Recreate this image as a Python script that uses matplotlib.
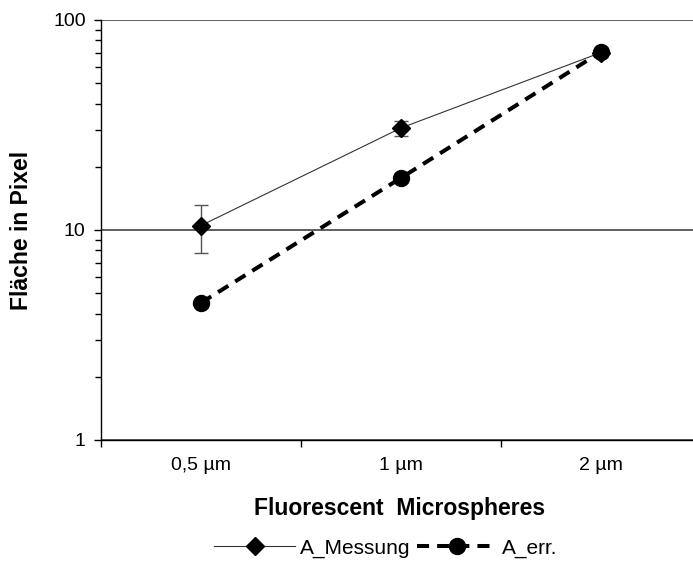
import matplotlib.pyplot as plt
import numpy as np

plt.rcParams['font.family'] = ['Liberation Sans', 'DejaVu Sans']

# data
categories = ['0,5 µm', '1 µm', '2 µm']
a_messung = [10.5, 30.6, 70.0]
a_messung_err = [2.7, 2.5, 0.0]
a_err = [4.5, 17.7, 70.5]

fig = plt.figure(figsize=(6.93, 5.67), dpi=100)
ax = fig.add_axes([101 / 693, 127 / 567, 600 / 693, 420 / 567])

x = np.arange(len(categories))

# A_Messung: thin line, diamonds, error bars
ax.errorbar(x, a_messung, yerr=a_messung_err, fmt='none', ecolor='#555555',
            elinewidth=1.0, capsize=5, capthick=1.0, zorder=3)
ax.plot(x, a_messung, color='#333333', lw=0.8, marker='D', markersize=9,
        markerfacecolor='black', markeredgecolor='black', label='A_Messung', zorder=4)

# A_err.: thick dashed line with round markers
ax.plot(x, a_err, color='black', lw=2.9, dashes=(3, 2), marker='o', markersize=11.5,
        markerfacecolor='black', markeredgecolor='black', label='A_err.', zorder=5)

ax.set_yscale('log')
ax.set_ylim(1, 100)
ax.set_xlim(-0.5, 2.5)

# category boundaries as major ticks, labels at centres
ax.set_xticks([-0.5, 0.5, 1.5, 2.5])
ax.set_xticklabels([])
ax.set_xticks(x, minor=True)
ax.set_xticklabels(categories, minor=True)
ax.tick_params(axis='x', which='major', direction='out', length=5, width=1)
ax.tick_params(axis='x', which='minor', length=0, pad=12, labelsize=14)

ax.set_yticks([1, 10, 100])
ax.set_yticklabels(['1', '10', '100'])
ax.tick_params(axis='y', which='major', direction='out', length=5, width=1, labelsize=14, pad=6)
ax.tick_params(axis='y', which='minor', direction='out', length=4, width=1, labelleft=False)

ax.grid(axis='y', which='major', color='#333333', lw=1.1)
ax.set_axisbelow(True)
for s in ['top', 'right']:
    ax.spines[s].set_visible(False)
ax.spines['left'].set_linewidth(1)
ax.spines['bottom'].set_linewidth(1)

ax.set_xlabel('Fluorescent  Microspheres', fontsize=16.5, fontweight='bold')
ax.set_ylabel('Fläche in Pixel', fontsize=16.5, fontweight='bold')
ax.xaxis.set_label_coords((400 - 101) / 600, -57 / 420)
ax.yaxis.set_label_coords(-68 / 600, (440 - 230) / 420)

fig.legend(loc='center', bbox_to_anchor=(386 / 693, 1 - 548 / 567), ncol=2, frameon=False,
           fontsize=15, handlelength=3.85, columnspacing=0.3, handletextpad=0.25)

fig.savefig('out.png', dpi=100)
